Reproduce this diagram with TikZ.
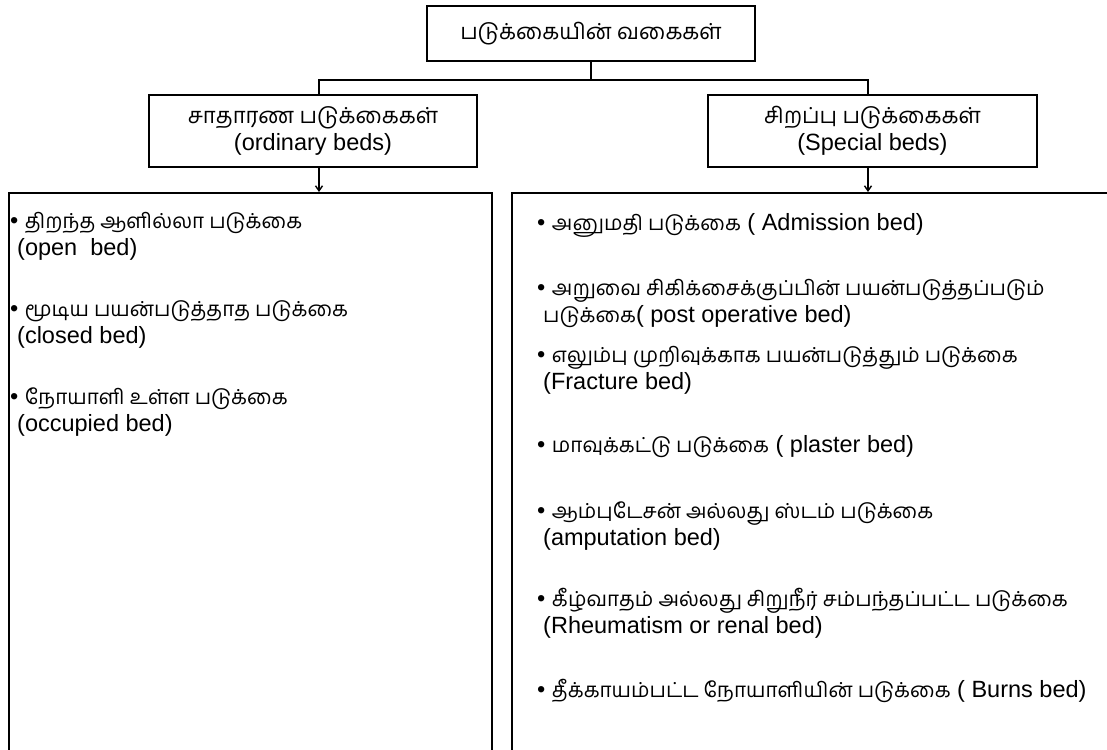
\documentclass[tikz,border=0pt]{standalone}
\usepackage{fontspec}
\setmainfont{Liberation Sans}
\newfontfamily\ta[Script=Tamil, Scale=0.88]{Hind Madurai}
\newfontfamily\tahead[Script=Tamil, Scale=0.94]{Hind Madurai}
\usetikzlibrary{arrows.meta, positioning}
\newcommand{\bedfont}{\fontsize{23.5}{27}\selectfont}
\tikzset{
    % Box styles - all sharp corners
    headbox/.style={
        rectangle,
        draw=black,
        line width=1.7pt,
        minimum width=328pt,
        minimum height=55pt,
        align=center,
        font=\bedfont
    },
    groupbox/.style={
        rectangle,
        draw=black,
        line width=1.7pt,
        minimum width=328pt,
        minimum height=72pt,
        align=center,
        font=\bedfont
    },
    listbox/.style={
        rectangle,
        draw=black,
        line width=1.9pt,
        minimum height=600pt,
        anchor=north west
    },
    item/.style={
        anchor=base west,
        inner sep=0pt,
        text height=16pt,
        text depth=4pt,
        font=\bedfont
    },
    % Connector styles
    link/.style={
        line width=1.4pt,
        draw=black
    },
    arrow/.style={
        -{Straight Barb[length=5pt, width=7pt]},
        line width=1.4pt,
        draw=black
    }
}

\begin{document}
\begin{tikzpicture}[x=1pt, y=-1pt]
    \clip (0,0) rectangle (1107,749);

    % Title and the two groups
    \node[headbox] (types) at (591,33.5) {\tahead படுக்கையின் வகைகள்};
    \node[groupbox] (ordinary) at (313,131) {{\tahead சாதாரண படுக்கைகள்}\\(ordinary beds)};
    \node[groupbox, minimum width=329pt] (special) at (872.5,131) {{\tahead சிறப்பு படுக்கைகள்}\\(Special beds)};

    % Lists
    \node[listbox, minimum width=483pt] (ordlist) at (8,192) {};
    \node[listbox, minimum width=640pt] (spllist) at (511,192) {};

    % Connectors
    \coordinate (split) at (591,80);
    \draw[link] (types.south) -- (split);
    \draw[link] ([xshift=6pt]ordinary.north) |- (split) -| ([xshift=-4.5pt]special.north);
    \draw[arrow] ([xshift=6pt]ordinary.south) -- ([xshift=6pt]ordinary.south |- ordlist.north);
    \draw[arrow] ([xshift=-4.5pt]special.south) -- ([xshift=-4.5pt]special.south |- spllist.north);

    % Ordinary beds
    \node[item] (o1) at (10,228) {• {\ta திறந்த ஆளில்லா படுக்கை}};
    \node[item] (o1e) at (17,255) {(open\ \ bed)};
    \node[item] (o2) at (10,316) {• {\ta மூடிய பயன்படுத்தாத படுக்கை}};
    \node[item] (o2e) at (17,343) {(closed bed)};
    \node[item] (o3) at (10,404) {• {\ta நோயாளி உள்ள படுக்கை}};
    \node[item] (o3e) at (17,431) {(occupied bed)};

    % Special beds
    \node[item] (s1) at (537,230) {• {\ta அனுமதி படுக்கை} (\ Admission bed)};
    \node[item] (s2) at (537,295) {• {\ta அறுவை சிகிக்சைக்குப்பின் பயன்படுத்தப்படும்}};
    \node[item] (s2e) at (543,322) {{\ta படுக்கை}(\ post operative bed)};
    \node[item] (s3) at (537,362) {• {\ta எலும்பு முறிவுக்காக பயன்படுத்தும் படுக்கை}};
    \node[item] (s3e) at (543,389) {(Fracture bed)};
    \node[item] (s4) at (537,452) {• {\ta மாவுக்கட்டு படுக்கை} (\ plaster bed)};
    \node[item] (s5) at (537,518) {• {\ta ஆம்புடேசன் அல்லது ஸ்டம் படுக்கை}};
    \node[item] (s5e) at (543,545) {(amputation bed)};
    \node[item] (s6) at (537,606) {• {\ta கீழ்வாதம் அல்லது சிறுநீர் சம்பந்தப்பட்ட படுக்கை}};
    \node[item] (s6e) at (543,633) {(Rheumatism or renal bed)};
    \node[item] (s7) at (537,697) {• {\ta தீக்காயம்பட்ட நோயாளியின் படுக்கை} (\ Burns bed)};
\end{tikzpicture}
\end{document}
